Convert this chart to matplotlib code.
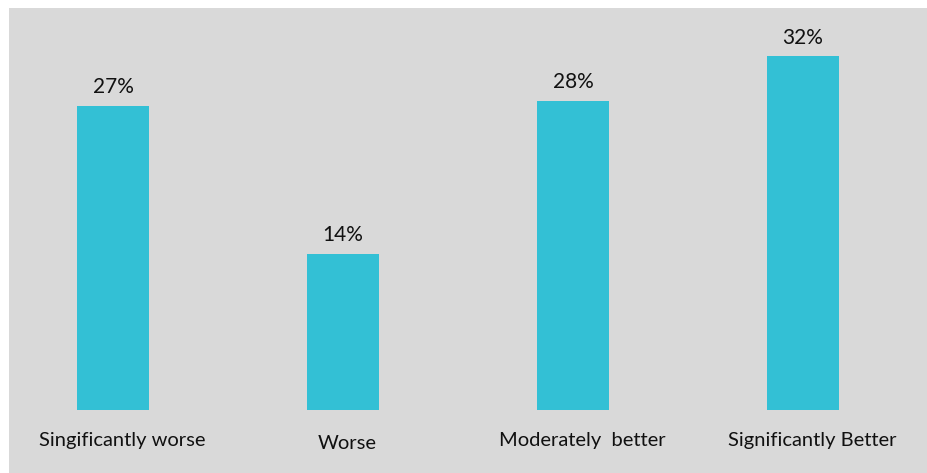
import matplotlib
matplotlib.use("Agg")
import matplotlib.pyplot as plt

categories = ["Singificantly worse", "Worse", "Moderately  better", "Significantly Better"]
values = [27.5, 14.1, 28.0, 32.0]
value_labels = ["27%", "14%", "28%", "32%"]

plt.rcParams['font.family'] = ['Lato', 'DejaVu Sans']

fig = plt.figure(figsize=(9.27, 4.73), dpi=100)
fig.patch.set_facecolor("white")
ax = fig.add_axes([9/927, 0, 918/927, 465/473])
ax.set_facecolor("#d9d9d9")

x = list(range(len(categories)))
bars = ax.bar(x, values, width=72/230, color="#33c0d5", zorder=2)
for xi, v, lab in zip(x, values, value_labels):
    ax.text(xi, v + 0.8, lab, ha="center", va="bottom", fontsize=15, color="#111111")

label_dx = [0.04, 0.02, 0.04, 0.04]
label_dy = [-2.75, -3.0, -2.8, -2.8]
for xi, cat, dx, dy in zip(x, categories, label_dx, label_dy):
    ax.text(xi + dx, dy, cat, ha="center", va="center", fontsize=14.5, color="#111111")

ax.set_xlim(-0.452, -0.452 + 918/230)
ax.set_ylim(-(473-410)/11.05, (410-8)/11.05)
ax.set_xticks([])
ax.set_yticks([])
for s in ax.spines.values():
    s.set_visible(False)

fig.savefig("out.png", dpi=100, facecolor="white")
